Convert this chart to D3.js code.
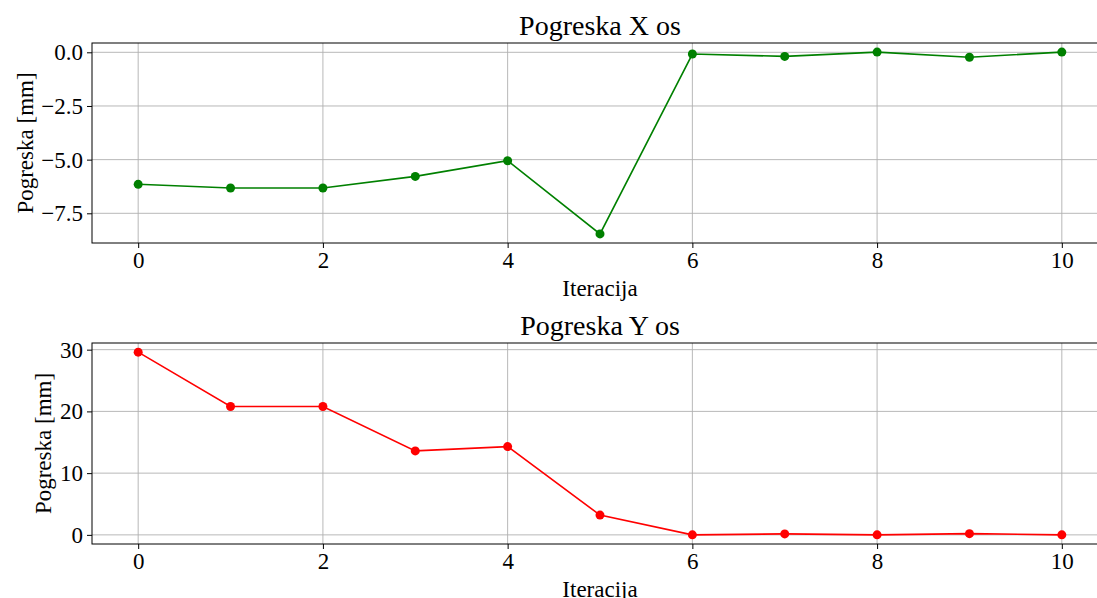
<!DOCTYPE html>
<html>
<head>
<meta charset="utf-8">
<script src="https://cdn.jsdelivr.net/npm/d3@7"></script>
<style>
  body { margin: 0; background: #fff; overflow: hidden; }
  svg { display: block; font-family: "Liberation Serif", "DejaVu Serif", serif; }
  .tick text { font-size: 23px; fill: #000; font-family: "Liberation Serif", "DejaVu Serif", serif; }
</style>
</head>
<body>
<div id="container"></div>
<script>
// iterations and measured errors
var iterations = [0, 1, 2, 3, 4, 5, 6, 7, 8, 9, 10];
var errorX = [-6.15, -6.32, -6.32, -5.78, -5.05, -8.46, -0.08, -0.19, 0.01, -0.23, 0.01];
var errorY = [29.6, 20.8, 20.8, 13.6, 14.3, 3.2, 0.0, 0.16, 0.0, 0.2, 0.0];
var xTicks = [0, 2, 4, 6, 8, 10];
var yTicksX = [0, -2.5, -5, -7.5];
var yTicksY = [0, 10, 20, 30];

var width = 1097, height = 598;
var svg = d3.select("#container").append("svg")
    .attr("width", width)
    .attr("height", height);

var left = 92, right = 1108;

function drawPanel(opts) {
  var g = svg.append("g");
  var x = d3.scaleLinear().domain([-0.5, 10.5]).range([left, right]);
  var lo = d3.min(opts.values), hi = d3.max(opts.values), pad = (hi - lo) * 0.05;
  var y = d3.scaleLinear().domain([lo - pad, hi + pad]).range([opts.bottom, opts.top]);

  // grid
  g.selectAll(".vgrid").data(xTicks).enter().append("line")
      .attr("x1", d => x(d)).attr("x2", d => x(d))
      .attr("y1", opts.top).attr("y2", opts.bottom)
      .attr("stroke", "#b0b0b0").attr("stroke-width", 0.9);
  g.selectAll(".hgrid").data(opts.yTicks).enter().append("line")
      .attr("x1", left).attr("x2", right)
      .attr("y1", d => y(d)).attr("y2", d => y(d))
      .attr("stroke", "#b0b0b0").attr("stroke-width", 0.9);

  // line + markers
  var line = d3.line().x((d, i) => x(iterations[i])).y(d => y(d));
  g.append("path").datum(opts.values)
      .attr("d", line).attr("fill", "none")
      .attr("stroke", opts.color).attr("stroke-width", 1.6);
  g.selectAll(".pt").data(opts.values).enter().append("circle")
      .attr("cx", (d, i) => x(iterations[i])).attr("cy", d => y(d))
      .attr("r", 4.5).attr("fill", opts.color);

  // spines
  g.append("rect").attr("x", left).attr("y", opts.top)
      .attr("width", right - left).attr("height", opts.bottom - opts.top)
      .attr("fill", "none").attr("stroke", "#000").attr("stroke-width", 1);

  // axes
  var xAxis = d3.axisBottom(x).tickValues(xTicks).tickSize(5).tickPadding(4)
      .tickFormat(d3.format("d"));
  g.append("g").attr("transform", "translate(0," + opts.bottom + ")").call(xAxis)
      .attr("font-family", null).attr("font-size", null)
      .call(s => s.select(".domain").remove());
  var yAxis = d3.axisLeft(y).tickValues(opts.yTicks).tickSize(5).tickPadding(4)
      .tickFormat(opts.fmt);
  g.append("g").attr("transform", "translate(" + left + ",0)").call(yAxis)
      .attr("font-family", null).attr("font-size", null)
      .call(s => s.select(".domain").remove());

  // titles
  g.append("text").attr("x", (left + right) / 2).attr("y", opts.top - 8)
      .attr("text-anchor", "middle").attr("font-size", 28).text(opts.title);
  g.append("text").attr("x", (left + right) / 2).attr("y", opts.bottom + 53)
      .attr("text-anchor", "middle").attr("font-size", 23).text("Iteracija");
  g.append("text")
      .attr("transform", "translate(" + opts.labelX + "," + (opts.top + opts.bottom) / 2 + ") rotate(-90)")
      .attr("text-anchor", "middle").attr("font-size", 23).text("Pogreska [mm]");
}

drawPanel({
  values: errorX, color: "#008000", top: 43, bottom: 243,
  yTicks: yTicksX, fmt: d => d3.format(".1f")(d).replace("-", "\u2212"),
  title: "Pogreska X os", labelX: 33
});
drawPanel({
  values: errorY, color: "#ff0000", top: 343, bottom: 544,
  yTicks: yTicksY, fmt: d3.format("d"),
  title: "Pogreska Y os", labelX: 51
});
</script>
</body>
</html>
